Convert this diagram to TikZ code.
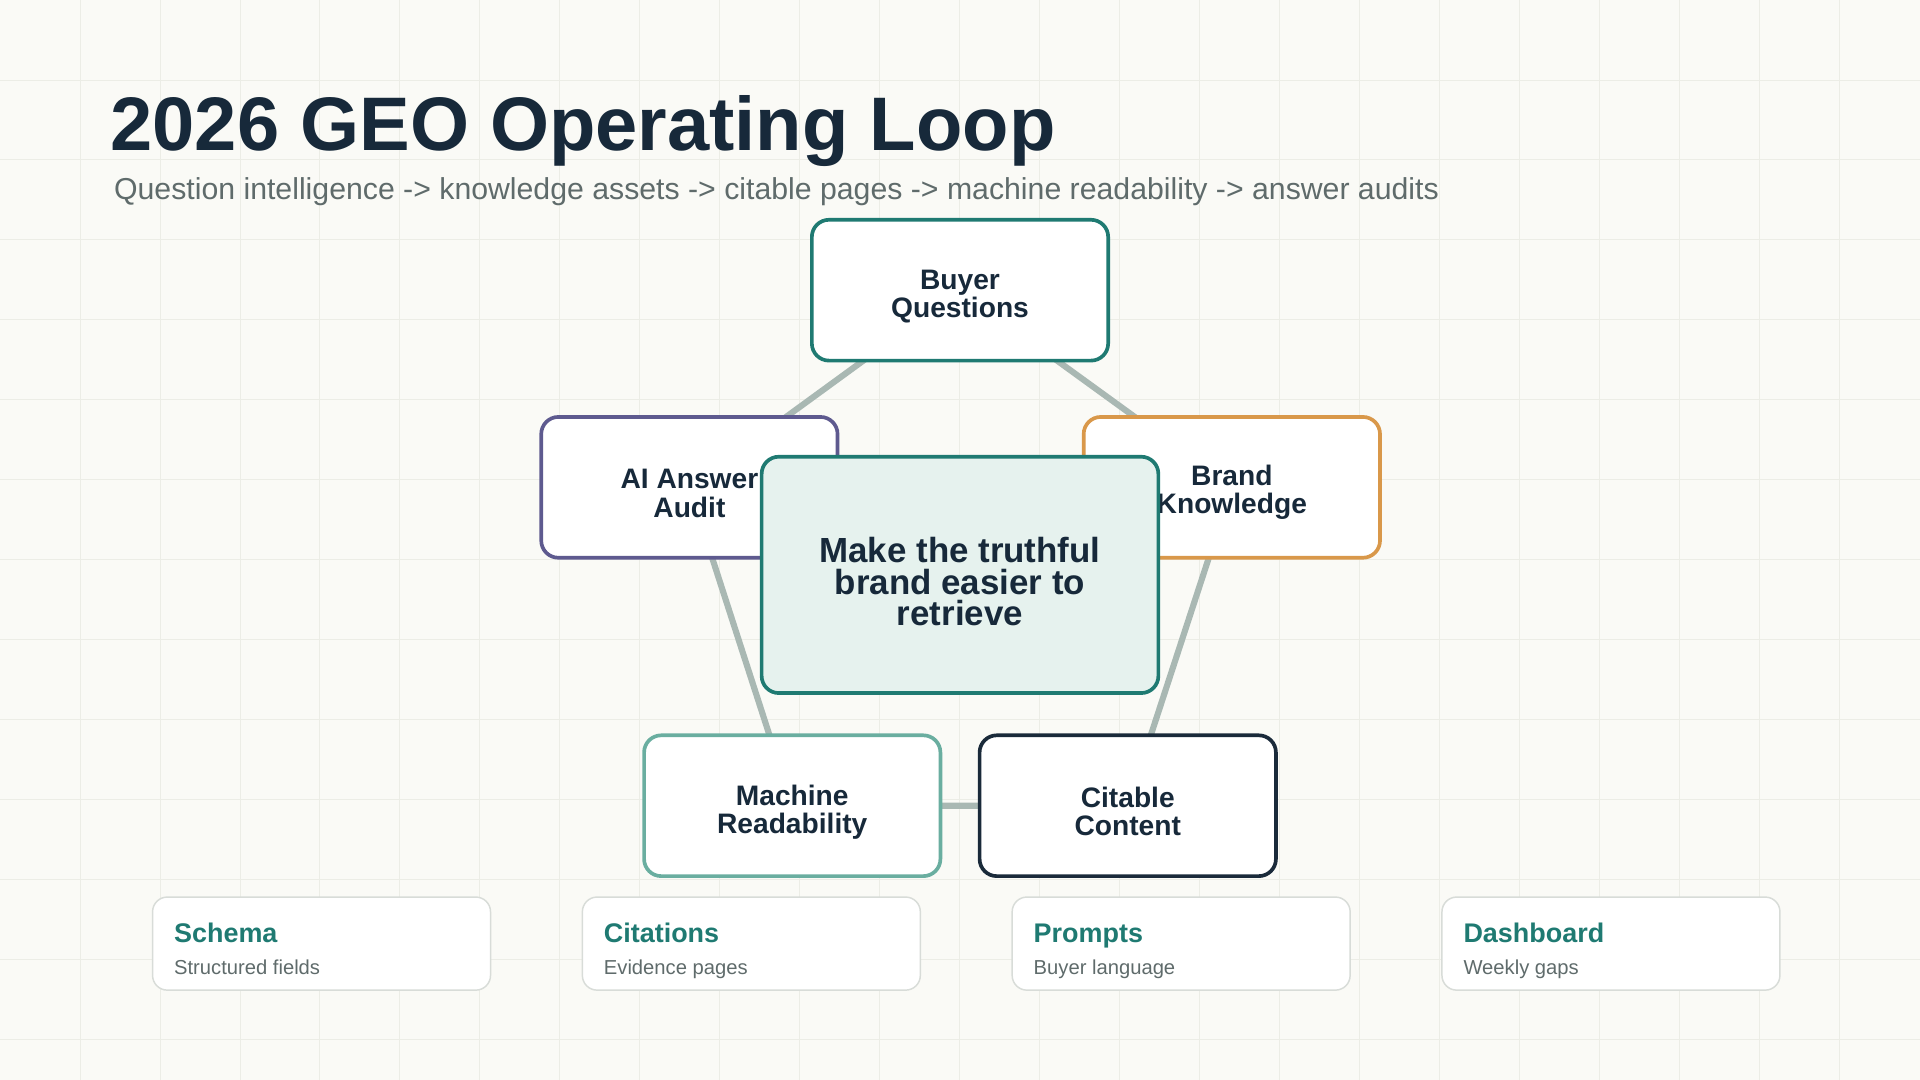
\documentclass[tikz,border=0pt]{standalone}
\usepackage{fontspec}
\setmainfont{Liberation Sans}
\usetikzlibrary{backgrounds}
\definecolor{bg}{HTML}{FAFAF6}
\definecolor{gridc}{HTML}{ECEDE6}
\definecolor{ink}{HTML}{17293A}
\definecolor{subc}{HTML}{5F6B6B}
\definecolor{teal}{HTML}{1F7A72}
\definecolor{purp}{HTML}{5E5A8F}
\definecolor{oran}{HTML}{D9984A}
\definecolor{ltea}{HTML}{6AAEA0}
\definecolor{navy}{HTML}{1A2A3A}
\definecolor{conn}{HTML}{A9B8B3}
\definecolor{cardb}{HTML}{D8DCD8}
\definecolor{centf}{HTML}{E6F2EE}
\tikzset{
  x=1pt,y=-1pt,
  loopbox/.style={draw,line width=3pt,rounded corners=14pt,fill=white,minimum width=242pt,minimum height=115pt,align=center,text=ink,font=\bfseries\fontsize{23}{23}\selectfont,inner sep=0pt},
  boxtext/.style={align=center,text=ink,font=\bfseries\fontsize{23}{23}\selectfont,inner sep=0pt},
  conline/.style={conn,line width=5pt},
  card/.style={draw=cardb,line width=1.2pt,rounded corners=12pt,fill=white,minimum width=276pt,minimum height=76pt,inner sep=0pt},
  cardt/.style={anchor=base west,text=teal,font=\bfseries\fontsize{22}{24}\selectfont,inner sep=0pt},
  cards/.style={anchor=base west,text=subc,font=\fontsize{16.5}{18}\selectfont,inner sep=0pt}
}
\begin{document}
\begin{tikzpicture}
\fill[bg] (0,0) rectangle (1568,882);
\useasboundingbox (0,0) rectangle (1568,882);
\foreach \i in {1,...,23} {\draw[gridc,line width=0.8pt] (\i*65.33,0) -- (\i*65.33,882);}
\foreach \j in {1,...,13} {\draw[gridc,line width=0.8pt] (0,\j*65.33) -- (1568,\j*65.33);}
\node[anchor=base west,text=ink,font=\bfseries\fontsize{62}{70}\selectfont,inner sep=0pt] (title) at (90,123) {2026 GEO Operating Loop};
\node[anchor=base west,text=subc,font=\fontsize{24.7}{26}\selectfont,inner sep=0pt] (sub) at (93,163) {Question intelligence -> knowledge assets -> citable pages -> machine readability -> answer audits};
\coordinate (cq) at (784,237);
\coordinate (cb) at (1006,398);
\coordinate (cc) at (921,658);
\coordinate (cm) at (647,658);
\coordinate (ca) at (563,398);
\draw[conline] (cq) -- (cb) -- (cc) -- (cm) -- (ca) -- cycle;
\node[loopbox,draw=teal] (q) at (cq) {};
\node[boxtext] (qt) at (784,242) {Buyer\\Questions};
\node[loopbox,draw=oran] (b) at (cb) {};
\node[boxtext] (bt) at (1006,402) {Brand\\Knowledge};
\node[loopbox,draw=navy] (c) at (cc) {};
\node[boxtext] (ct) at (921,663) {Citable\\Content};
\node[loopbox,draw=ltea] (m) at (cm) {};
\node[boxtext] (mt) at (647,663) {Machine\\Readability};
\node[loopbox,draw=purp] (a) at (ca) {};
\node[boxtext] (at) at (563,403) {AI Answer\\Audit};
\node[loopbox,draw=teal,fill=centf,minimum width=324pt,minimum height=193pt] (core) at (784,469.5) {};
\node[boxtext,font=\bfseries\fontsize{28.5}{26}\selectfont] (coret) at (784,475) {Make the truthful\\brand easier to\\retrieve};
\foreach \n/\x/\t/\s in {s1/124/Schema/Structured fields, s2/475/Citations/Evidence pages, s3/826/Prompts/Buyer language, s4/1177/Dashboard/Weekly gaps} {
  \node[card,anchor=north west] (\n) at (\x,732) {};
  \node[cardt] (\n t) at (\x+18,770) {\t};
  \node[cards] (\n s) at (\x+18,796) {\s};
}
\end{tikzpicture}
\end{document}
